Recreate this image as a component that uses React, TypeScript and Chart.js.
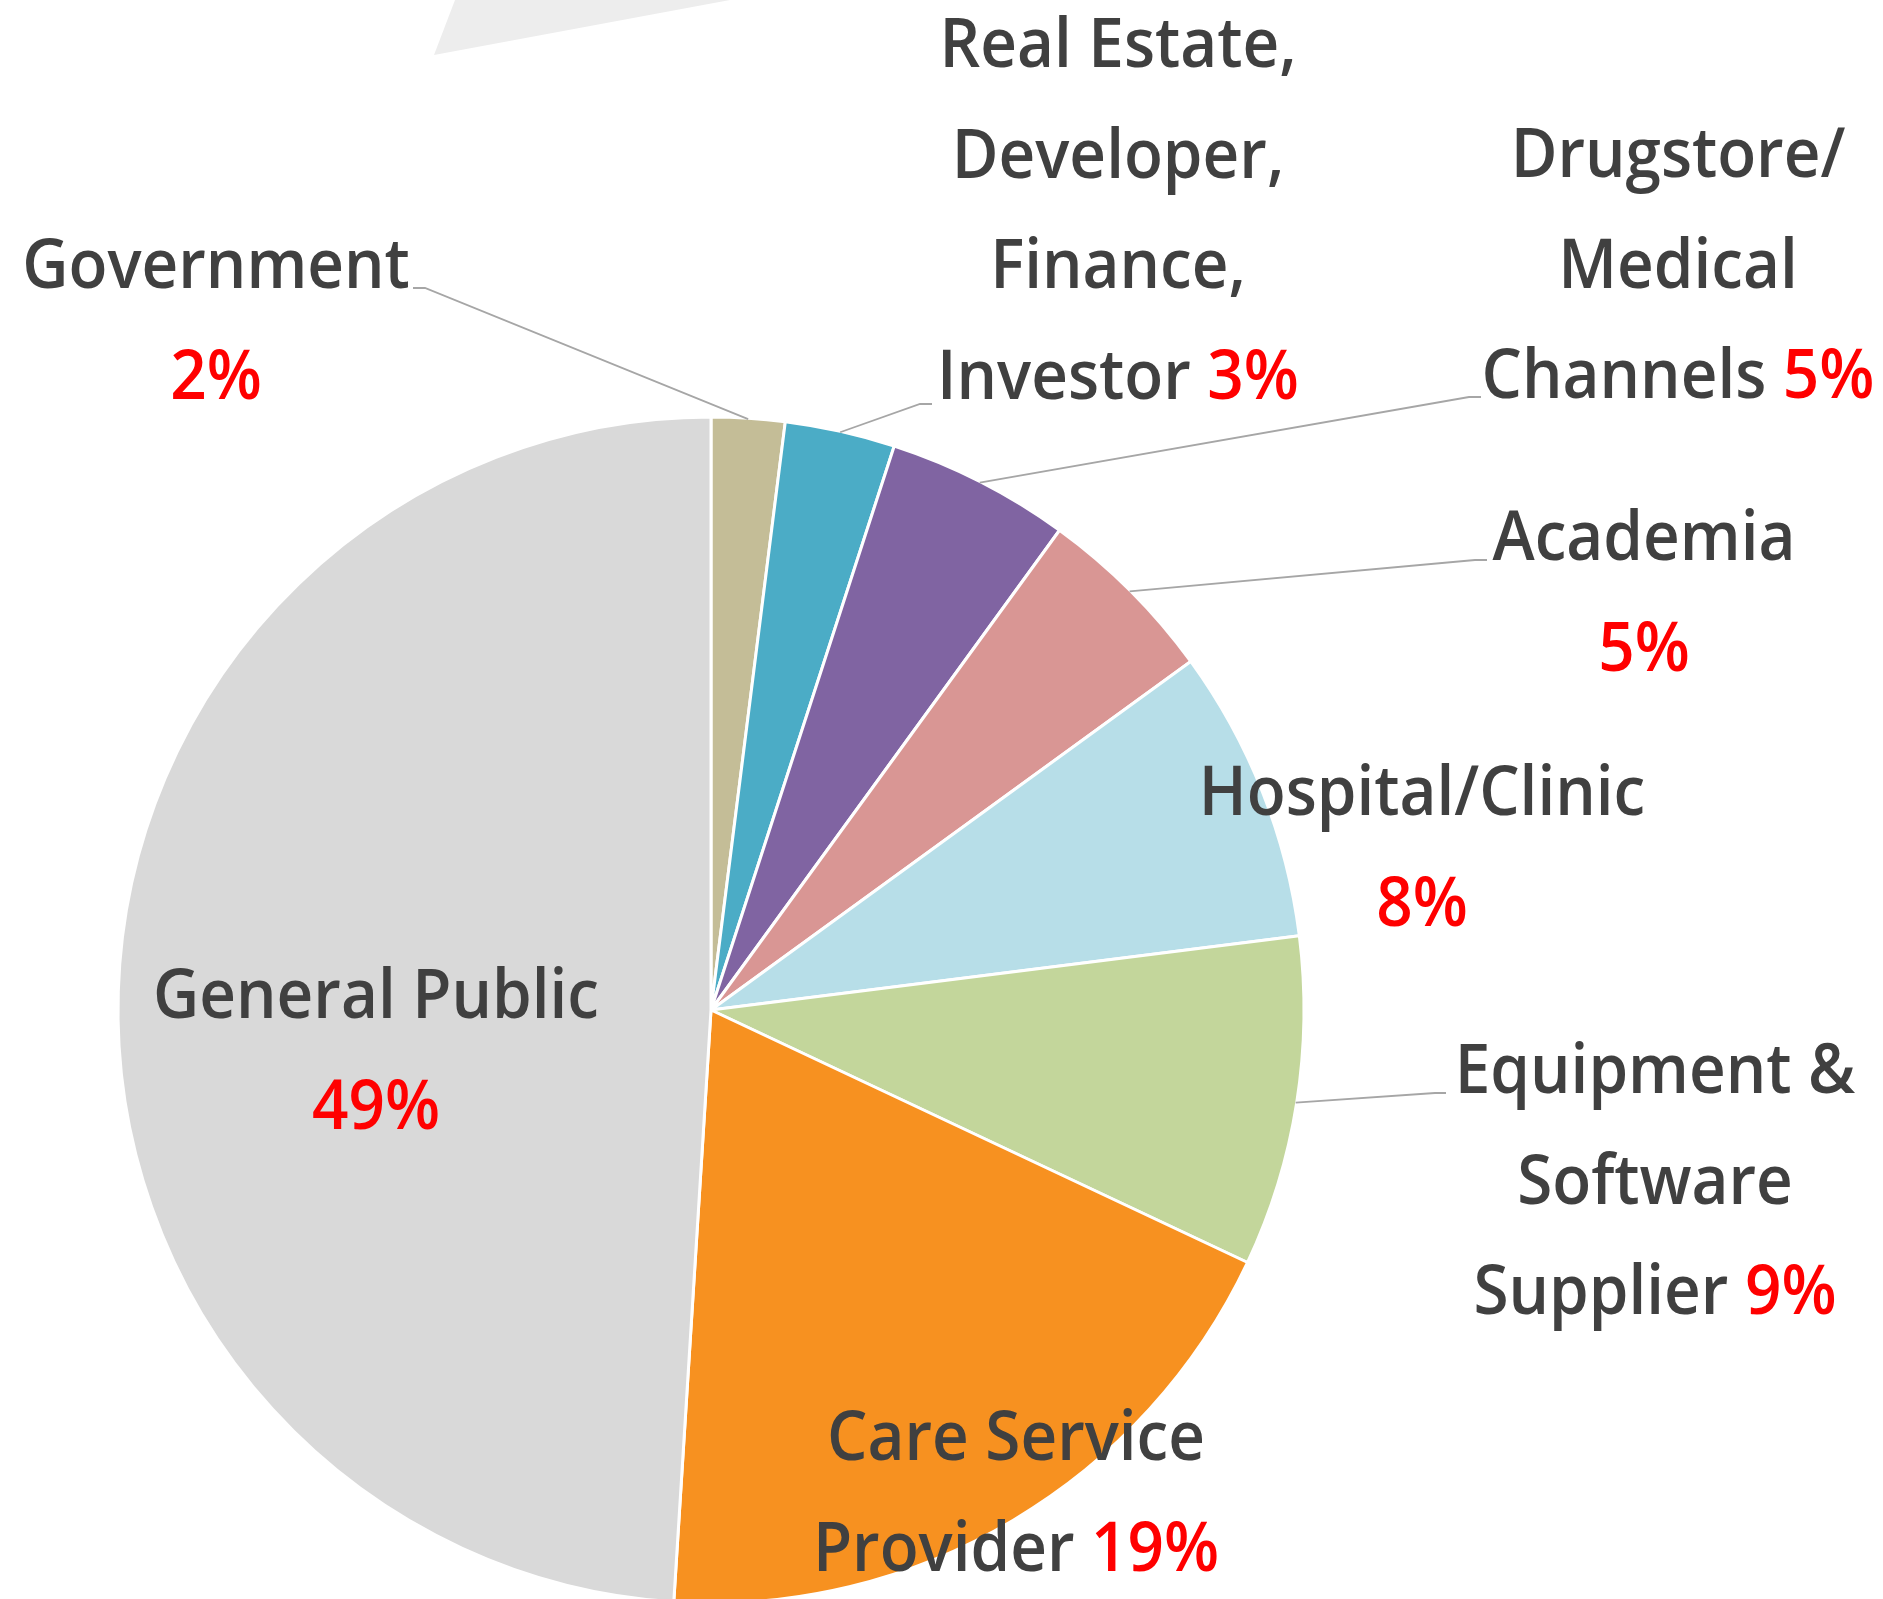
import React, { useEffect, useRef } from "react";
import { Chart, registerables } from "chart.js";

Chart.register(...registerables);

// ---- data ----
const categories = [
  "Government",
  "Real Estate, Developer, Finance, Investor",
  "Drugstore/ Medical Channels",
  "Academia",
  "Hospital/Clinic",
  "Equipment & Software Supplier",
  "Care Service Provider",
  "General Public",
];
const values = [2, 3, 5, 5, 8, 9, 19, 49];
const sliceColors = [
  "#C4BD97",
  "#4BACC6",
  "#8064A2",
  "#D99694",
  "#B7DEE8",
  "#C3D69B",
  "#F79120",
  "#D9D9D9",
];
const labelLines: string[][] = [
  ["Government"],
  ["Real Estate,", "Developer,", "Finance,", "Investor"],
  ["Drugstore/", "Medical", "Channels"],
  ["Academia"],
  ["Hospital/Clinic"],
  ["Equipment &", "Software", "Supplier"],
  ["Care Service", "Provider"],
  ["General Public"],
];
const percentOnOwnLine = [true, false, false, true, true, false, false, true];

// ---- layout (label placement, leader elbows) ----
const FONT_SIZE = 68;
const FONT_WEIGHT = 600;
const LINE_H = 110.5;
const FONT_FAMILY = '"Open Sans", "Noto Sans", sans-serif';
const TEXT_COLOR = "#404040";
const PCT_COLOR = "#FF0000";
const labelPos = [
  { cx: 216, y: 288 },
  { cx: 1118, y: 67 },
  { cx: 1678, y: 177 },
  { cx: 1644, y: 560 },
  { cx: 1422, y: 815 },
  { cx: 1655, y: 1093 },
  { cx: 1016, y: 1460 },
  { cx: 376, y: 1018 },
];
// leader: elbow (kx, ky) then horizontal to ex; null = no leader
const leaders: ({ kx: number; ky: number; ex: number } | null)[] = [
  { kx: 425, ky: 288, ex: 413 },
  { kx: 920, ky: 404, ex: 932 },
  { kx: 1469, ky: 397, ex: 1481 },
  { kx: 1475, ky: 560, ex: 1487 },
  null,
  { kx: 1435, ky: 1093, ex: 1446 },
  null,
  null,
];

const labelPlugin = {
  id: "pieLabels",
  beforeDraw(chart: any) {
    const ctx = chart.ctx as CanvasRenderingContext2D;
    ctx.save();
    ctx.fillStyle = "#EDEDED";
    ctx.beginPath();
    ctx.moveTo(455, 0);
    ctx.lineTo(434, 55);
    ctx.lineTo(730, 0);
    ctx.closePath();
    ctx.fill();
    ctx.restore();
  },
  afterDatasetsDraw(chart: any) {
    const ctx = chart.ctx as CanvasRenderingContext2D;
    const meta = chart.getDatasetMeta(0);
    ctx.save();
    // leader lines
    ctx.strokeStyle = "#A6A6A6";
    ctx.lineWidth = 1.8;
    meta.data.forEach((arc: any, i: number) => {
      const ld = leaders[i];
      if (!ld) return;
      const p = arc.getProps(["x", "y", "startAngle", "endAngle", "outerRadius"], true);
      const mid = (p.startAngle + p.endAngle) / 2;
      const sx = p.x + Math.cos(mid) * (p.outerRadius - 1);
      const sy = p.y + Math.sin(mid) * (p.outerRadius - 1);
      ctx.beginPath();
      ctx.moveTo(sx, sy);
      ctx.lineTo(ld.kx, ld.ky);
      ctx.lineTo(ld.ex, ld.ky);
      ctx.stroke();
    });
    // labels
    ctx.font = `${FONT_WEIGHT} ${FONT_SIZE}px ${FONT_FAMILY}`;
    ctx.textBaseline = "alphabetic";
    ctx.textAlign = "left";
    const scaleX = 446 / ctx.measureText("General Public").width;
    const total = values.reduce((a, b) => a + b, 0);
    values.forEach((v, i) => {
      const pct = `${Math.round((v / total) * 100)}%`;
      const lines = labelLines[i].map((t) => ({ text: t, pct: "" }));
      if (percentOnOwnLine[i]) lines.push({ text: "", pct });
      else lines[lines.length - 1].pct = " " + pct;
      const pos = labelPos[i];
      lines.forEach((ln, k) => {
        const wText = ctx.measureText(ln.text).width;
        const wPct = ln.pct ? ctx.measureText(ln.pct).width : 0;
        const w = (wText + wPct) * scaleX;
        const y = pos.y + k * LINE_H;
        ctx.save();
        ctx.translate(pos.cx - w / 2, y);
        ctx.scale(scaleX, 1);
        if (ln.text) {
          ctx.fillStyle = TEXT_COLOR;
          ctx.fillText(ln.text, 0, 0);
        }
        if (ln.pct) {
          ctx.fillStyle = PCT_COLOR;
          ctx.fillText(ln.pct, wText, 0);
        }
        ctx.restore();
      });
    });
    ctx.restore();
  },
};

export default function App() {
  const canvasRef = useRef<HTMLCanvasElement | null>(null);

  useEffect(() => {
    const canvas = canvasRef.current;
    if (!canvas) return;
    const chart = new Chart(canvas, {
      type: "pie",
      data: {
        labels: categories,
        datasets: [
          {
            data: values,
            backgroundColor: sliceColors,
            borderColor: "#FFFFFF",
            borderWidth: 3,
            radius: 593,
          } as any,
        ],
      },
      options: {
        responsive: false,
        animation: false,
        devicePixelRatio: 1,
        events: [],
        layout: { padding: { left: 119, right: 580, top: 418, bottom: 18 } },
        plugins: {
          legend: { display: false },
          tooltip: { enabled: false },
        },
      } as any,
      plugins: [labelPlugin],
    });
    return () => chart.destroy();
  }, []);

  return (
    <div
      style={{
        position: "absolute",
        left: 0,
        top: 0,
        width: 1883,
        height: 1599,
        overflow: "hidden",
        background: "#FFFFFF",
      }}
    >
      <canvas
        ref={canvasRef}
        width={1883}
        height={1620}
        style={{ display: "block", width: 1883, height: 1620 }}
      />
    </div>
  );
}
